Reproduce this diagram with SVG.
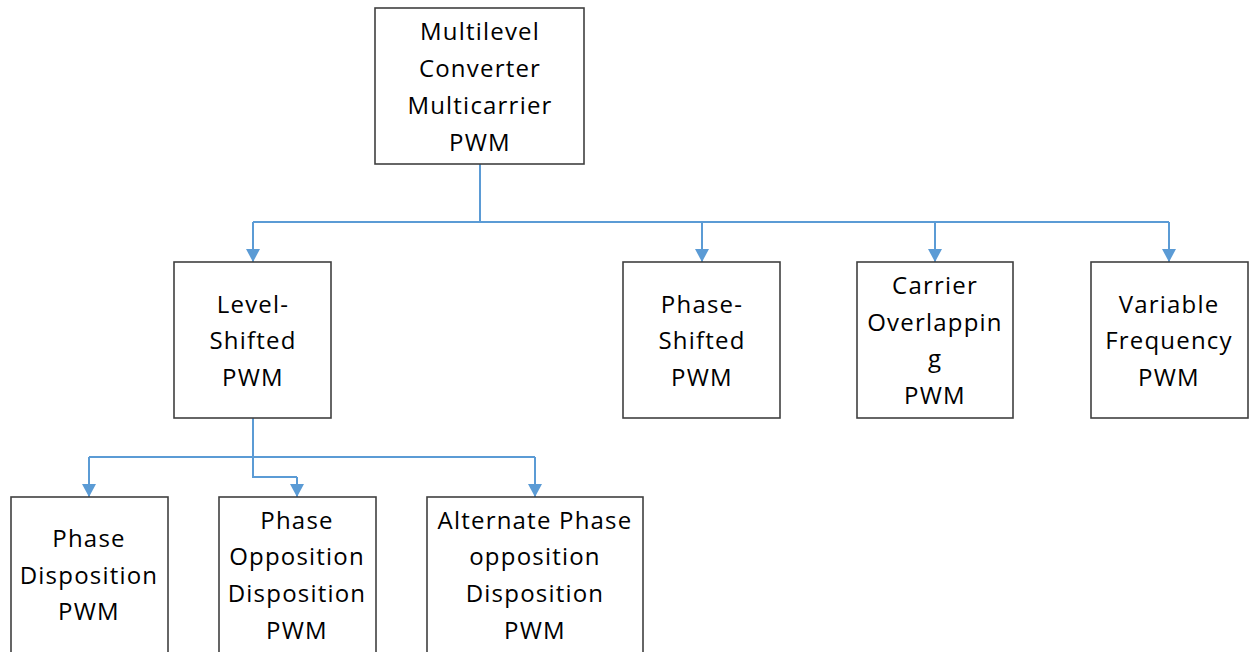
<svg xmlns="http://www.w3.org/2000/svg" width="1252" height="652" viewBox="0 0 1252 652">
<style>
.box{fill:#ffffff;stroke:#404040;stroke-width:1.6}
.t{font-family:"Open Sans","Liberation Sans",sans-serif;font-size:24px;fill:#000;text-anchor:middle;letter-spacing:1.2px}
.c{fill:none;stroke:#5B9BD5;stroke-width:2}
</style>
<defs>
<marker id="ah" viewBox="0 0 13 14" refX="13" refY="7" markerWidth="13" markerHeight="14" markerUnits="userSpaceOnUse" orient="auto">
<path d="M0,0 L13,7 L0,14 Z" fill="#5B9BD5"/>
</marker>
</defs>
<rect width="1252" height="652" fill="#ffffff"/>
<g id="connectors">
<path class="c" d="M480,164 V222"/>
<path class="c" d="M253,222 H1169"/>
<path class="c" marker-end="url(#ah)" d="M253,222 V262"/>
<path class="c" marker-end="url(#ah)" d="M702,222 V262"/>
<path class="c" marker-end="url(#ah)" d="M935,222 V262"/>
<path class="c" marker-end="url(#ah)" d="M1169,222 V262"/>
<path class="c" d="M89,457 H535"/>
<path class="c" d="M253,418 V477 H297"/>
<path class="c" marker-end="url(#ah)" d="M297,477 V497"/>
<path class="c" marker-end="url(#ah)" d="M89,457 V497"/>
<path class="c" marker-end="url(#ah)" d="M535,457 V497"/>
</g>
<g id="root">
<rect class="box" x="375" y="8" width="209" height="156"/>
<text class="t" x="480" y="40">Multilevel</text>
<text class="t" x="480" y="77">Converter</text>
<text class="t" x="480" y="114">Multicarrier</text>
<text class="t" x="480" y="151">PWM</text>
</g>
<g id="level-shifted">
<rect class="box" x="174" y="262" width="157" height="156"/>
<text class="t" x="253" y="313">Level-</text>
<text class="t" x="253" y="349">Shifted</text>
<text class="t" x="253" y="386">PWM</text>
</g>
<g id="phase-shifted">
<rect class="box" x="623" y="262" width="157" height="156"/>
<text class="t" x="702" y="313">Phase-</text>
<text class="t" x="702" y="349">Shifted</text>
<text class="t" x="702" y="386">PWM</text>
</g>
<g id="carrier-overlapping">
<rect class="box" x="857" y="262" width="156" height="156"/>
<text class="t" x="935" y="294">Carrier</text>
<text class="t" x="935" y="331">Overlappin</text>
<text class="t" x="935" y="367">g</text>
<text class="t" x="935" y="404">PWM</text>
</g>
<g id="variable-frequency">
<rect class="box" x="1091" y="262" width="157" height="156"/>
<text class="t" x="1169" y="313">Variable</text>
<text class="t" x="1169" y="349">Frequency</text>
<text class="t" x="1169" y="386">PWM</text>
</g>
<g id="phase-disposition">
<rect class="box" x="11" y="497" width="157" height="170"/>
<text class="t" x="89" y="547">Phase</text>
<text class="t" x="89" y="584">Disposition</text>
<text class="t" x="89" y="620">PWM</text>
</g>
<g id="phase-opposition-disposition">
<rect class="box" x="219" y="497" width="157" height="170"/>
<text class="t" x="297" y="529">Phase</text>
<text class="t" x="297" y="565">Opposition</text>
<text class="t" x="297" y="602">Disposition</text>
<text class="t" x="297" y="639">PWM</text>
</g>
<g id="alternate-phase-opposition-disposition">
<rect class="box" x="427" y="497" width="216" height="170"/>
<text class="t" x="535" y="529">Alternate Phase</text>
<text class="t" x="535" y="565">opposition</text>
<text class="t" x="535" y="602">Disposition</text>
<text class="t" x="535" y="639">PWM</text>
</g>
</svg>
